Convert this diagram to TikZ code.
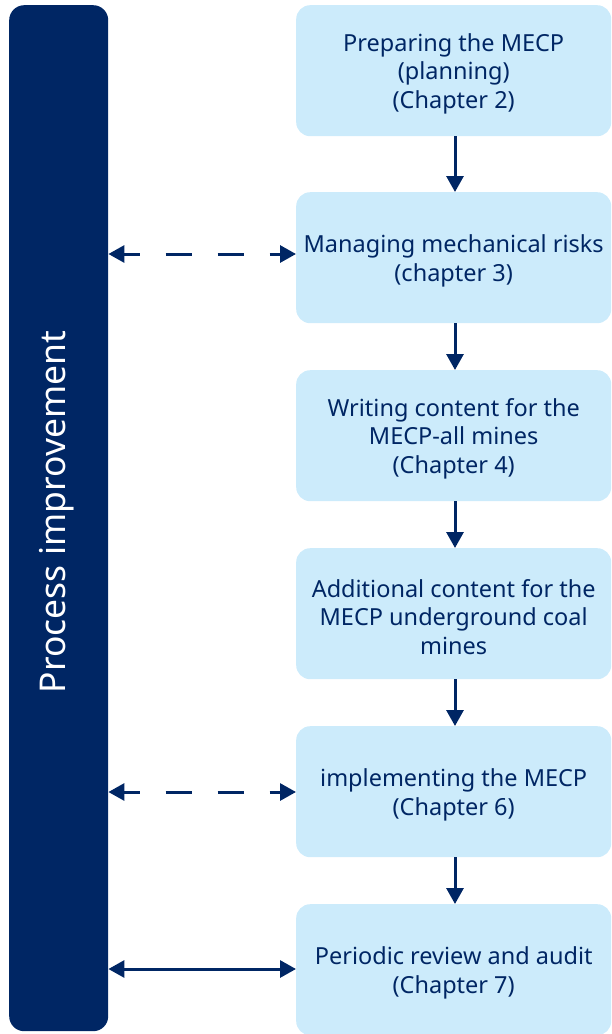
\documentclass[tikz,border=0pt]{standalone}
\usepackage{fontspec}
\setmainfont{Noto Sans}
\usetikzlibrary{arrows.meta}
\definecolor{navy}{HTML}{002664}
\definecolor{lightblue}{HTML}{CCEBFB}
\tikzset{
  stepbox/.style={fill=lightblue, rounded corners=14pt, minimum width=315pt, minimum height=131pt, inner sep=0pt, anchor=north west},
  steptext/.style={text=navy, align=center, inner sep=0pt, yshift=-3pt, font=\fontsize{23.5}{28.5}\selectfont},
  flow/.style={draw=navy, line width=3pt, -{Triangle[length=16pt,width=17pt]}},
  both/.style={draw=navy, line width=3pt, {Triangle[length=16pt,width=17pt]}-{Triangle[length=16pt,width=17pt]}},
  dashedboth/.style={both, dash pattern=on 26pt off 26pt, dash phase=10pt},
}
\begin{document}
\begin{tikzpicture}[x=1pt,y=-1pt]
\useasboundingbox (0,0) rectangle (612,1034);
\node[fill=navy, rounded corners=15pt, minimum width=99pt, minimum height=1026pt, inner sep=0pt, anchor=north west] (bar) at (9,5) {};
\node[rotate=90, text=white, font=\fontsize{35.5}{40}\selectfont] (bartext) at (57,512) {Process improvement};
\node[stepbox] (b1) at (296,5) {};
\node[stepbox] (b2) at (296,192) {};
\node[stepbox] (b3) at (296,370) {};
\node[stepbox] (b4) at (296,548) {};
\node[stepbox] (b5) at (296,726) {};
\node[stepbox] (b6) at (296,904) {};
\node[steptext] (t1) at (b1.center) {Preparing the MECP\\(planning)\\(Chapter 2)};
\node[steptext] (t2) at (b2.center) {Managing mechanical risks\\(chapter 3)};
\node[steptext] (t3) at (b3.center) {Writing content for the\\MECP-all mines\\(Chapter 4)};
\node[steptext] (t4) at (b4.center) {Additional content for the\\MECP underground coal\\mines};
\node[steptext] (t5) at (b5.center) {implementing the MECP\\(Chapter 6)};
\node[steptext] (t6) at (b6.center) {Periodic review and audit\\(Chapter 7)};
\coordinate (c1) at (455,137);
\draw[flow] (b1.south -| c1) -- (b2.north -| c1);
\draw[flow] (b2.south -| c1) -- (b3.north -| c1);
\draw[flow] (b3.south -| c1) -- (b4.north -| c1);
\draw[flow] (b4.south -| c1) -- (b5.north -| c1);
\draw[flow] (b5.south -| c1) -- (b6.north -| c1);
\coordinate (h2) at (0,254);
\coordinate (h5) at (0,792);
\coordinate (h6) at (0,969);
\draw[dashedboth] (bar.east |- h2) -- (b2.west |- h2);
\draw[dashedboth] (bar.east |- h5) -- (b5.west |- h5);
\draw[both] (bar.east |- h6) -- (b6.west |- h6);
\end{tikzpicture}
\end{document}
